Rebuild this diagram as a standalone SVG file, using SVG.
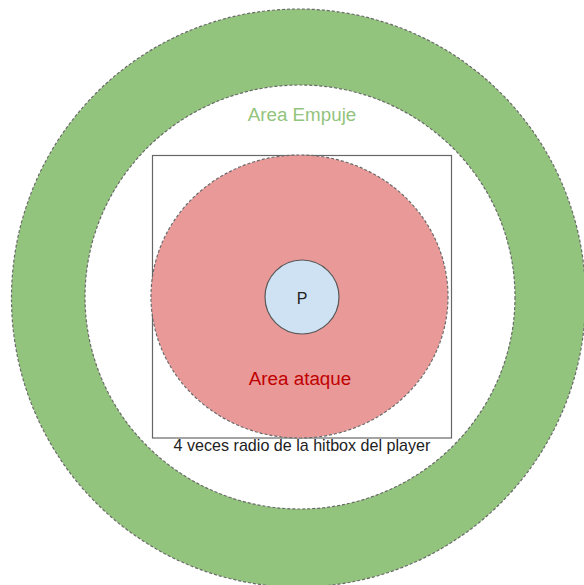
<svg xmlns="http://www.w3.org/2000/svg" width="584" height="585" viewBox="0 0 584 585">
<style>
.dash{stroke:#6a6a6a;stroke-width:1.2;stroke-dasharray:3 2}
.t{font-family:"Liberation Sans",Arial,sans-serif;text-anchor:middle}
</style>
<rect width="584" height="585" fill="#ffffff"/>
<g id="area-empuje">
<ellipse cx="298.5" cy="298" rx="287" ry="289" fill="#93c47d" class="dash"/>
<ellipse cx="300" cy="297" rx="215" ry="212" fill="#ffffff" class="dash"/>
<text class="t" x="302" y="121" font-size="18.8" fill="#93c47d">Area Empuje</text>
</g>
<g id="hitbox-box">
<rect x="152.5" y="155.5" width="299" height="282.5" fill="none" stroke="#666666" stroke-width="1.2"/>
<text class="t" x="302" y="451" font-size="16.1" fill="#222222">4 veces radio de la hitbox del player</text>
</g>
<g id="area-ataque">
<ellipse cx="299.5" cy="296.5" rx="148.5" ry="141.5" fill="#ea9999" class="dash"/>
<text class="t" x="300" y="385" font-size="18.8" fill="#c00000">Area ataque</text>
</g>
<g id="player">
<circle cx="302" cy="297" r="37" fill="#cfe2f3" stroke="#595959" stroke-width="1.2"/>
<text class="t" x="302" y="303.5" font-size="16" fill="#222222">P</text>
</g>
</svg>
